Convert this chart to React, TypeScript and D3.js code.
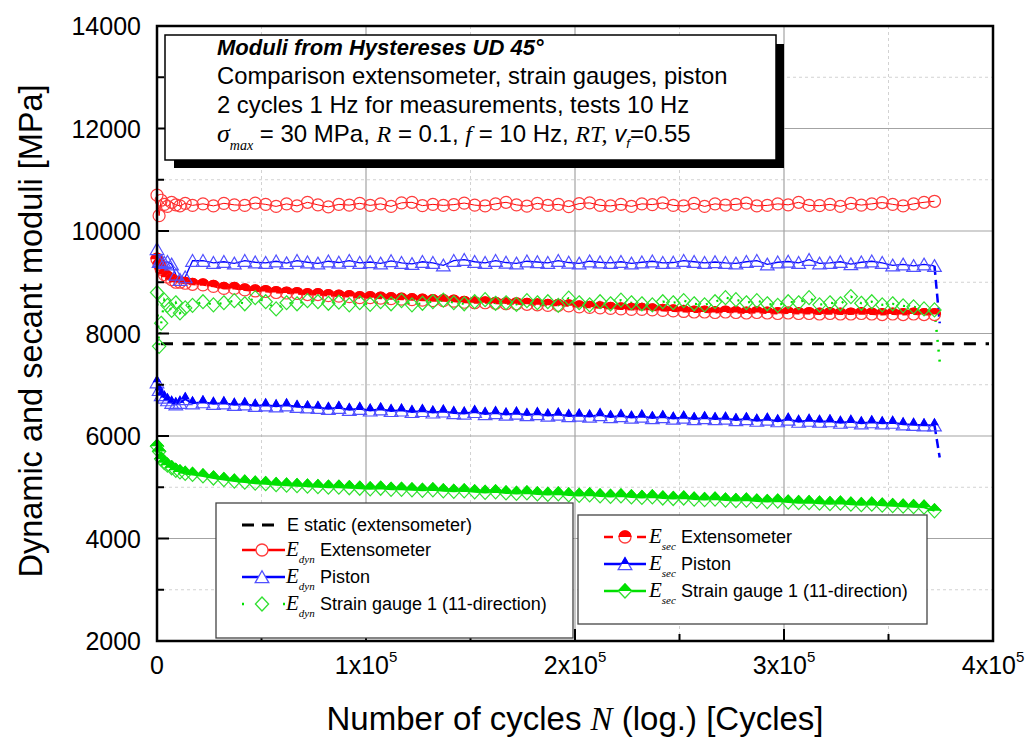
import React from "react";
import * as d3 from "d3";

// Cycle counts at which the hysteresis moduli were evaluated
const cycles = [
  0, 1000, 2000, 3500, 5000, 7000, 9000, 11000, 13500, 17000,
  22000, 27000, 32000, 37000, 42000, 47000, 52000, 57000, 62000, 67000,
  72000, 77000, 82000, 87000, 92000, 97000, 102000, 107000, 112000, 117000,
  122000, 127000, 132000, 137000, 142000, 147000, 152000, 157000, 162000, 167000,
  172000, 177000, 182000, 187000, 192000, 197000, 202000, 207000, 212000, 217000,
  222000, 227000, 232000, 237000, 242000, 247000, 252000, 257000, 262000, 267000,
  272000, 277000, 282000, 287000, 292000, 297000, 302000, 307000, 312000, 317000,
  322000, 327000, 332000, 337000, 342000, 347000, 352000, 357000, 362000, 367000,
  372000,
];

// Dynamic moduli [MPa]
const dynExtensometer = [
  10700, 10300, 10600, 10520, 10480, 10560, 10510, 10490, 10540, 10500,
  10530, 10490, 10540, 10510, 10500, 10545, 10520, 10480, 10530, 10490,
  10560, 10510, 10470, 10520, 10505, 10540, 10500, 10530, 10480, 10550,
  10560, 10495, 10520, 10500, 10515, 10545, 10505, 10490, 10530, 10560,
  10510, 10485, 10540, 10500, 10520, 10475, 10535, 10550, 10500, 10490,
  10520, 10480, 10530, 10515, 10550, 10500, 10490, 10540, 10480, 10530,
  10505, 10520, 10545, 10490, 10500, 10530, 10510, 10560, 10500, 10495,
  10520, 10480, 10540, 10505, 10530, 10555, 10520, 10490, 10530, 10560,
  10580,
];
const dynPiston = [
  9650, 9400, 9420, 9380, 9400, 9350, 9150, 9050, 9100, 9420,
  9420, 9380, 9400, 9370, 9420, 9390, 9380, 9410, 9375, 9420,
  9390, 9370, 9410, 9385, 9420, 9380, 9395, 9370, 9415, 9380,
  9360, 9400, 9380, 9330, 9420, 9440, 9400, 9380, 9420, 9385,
  9370, 9410, 9395, 9380, 9420, 9385, 9370, 9410, 9390, 9380,
  9400, 9370, 9390, 9410, 9380, 9385, 9420, 9400, 9380, 9395,
  9380, 9370, 9400, 9420, 9350, 9390, 9405, 9380, 9440, 9370,
  9380, 9400, 9355, 9390, 9410, 9380, 9330, 9350, 9320, 9350,
  9320,
];
const dynGauge = [
  8800, 7750, 8200, 8650, 8550, 8450, 8600, 8400, 8500, 8550,
  8620, 8560, 8600, 8640, 8580, 8700, 8620, 8480, 8600, 8580,
  8640, 8620, 8590, 8610, 8560, 8600, 8570, 8620, 8580, 8640,
  8560, 8590, 8620, 8650, 8600, 8580, 8620, 8660, 8590, 8600,
  8570, 8640, 8600, 8620, 8550, 8690, 8600, 8560, 8620, 8580,
  8650, 8600, 8580, 8560, 8620, 8600, 8640, 8580, 8560, 8620,
  8700, 8660, 8600, 8640, 8580, 8550, 8620, 8600, 8700, 8560,
  8600, 8580, 8720, 8590, 8620, 8560, 8580, 8540, 8520, 8480,
  8460,
];

// Secant moduli [MPa]
const secExtensometer = [
  9450, 9350, 9250, 9150, 9100, 9050, 9000, 9000, 8980, 8960,
  8950, 8920, 8880, 8880, 8850, 8830, 8820, 8800, 8790, 8780,
  8760, 8760, 8740, 8730, 8720, 8700, 8700, 8690, 8680, 8670,
  8660, 8650, 8640, 8640, 8630, 8610, 8600, 8600, 8590, 8580,
  8580, 8570, 8560, 8550, 8550, 8540, 8520, 8510, 8500, 8490,
  8480, 8470, 8470, 8460, 8450, 8440, 8430, 8420, 8420, 8410,
  8420, 8410, 8400, 8410, 8400, 8390, 8400, 8390, 8390, 8380,
  8390, 8380, 8380, 8390, 8380, 8370, 8380, 8370, 8380, 8370,
  8370,
];
const secPiston = [
  7050, 6900, 6800, 6750, 6700, 6650, 6620, 6650, 6720, 6640,
  6660, 6630, 6640, 6610, 6620, 6590, 6600, 6580, 6600, 6570,
  6560, 6550, 6530, 6550, 6510, 6530, 6500, 6520, 6490, 6500,
  6470, 6490, 6460, 6480, 6450, 6440, 6470, 6430, 6450, 6420,
  6440, 6410, 6430, 6400, 6420, 6390, 6400, 6380, 6410, 6370,
  6390, 6360, 6380, 6350, 6370, 6340, 6360, 6330, 6350, 6330,
  6340, 6310, 6330, 6300, 6320, 6290, 6320, 6280, 6300, 6280,
  6290, 6260, 6280, 6250, 6270, 6250, 6260, 6230, 6220, 6210,
  6210,
];
const secGauge = [
  5800, 5700, 5550, 5480, 5430, 5380, 5330, 5300, 5270, 5250,
  5220, 5180, 5150, 5120, 5100, 5080, 5070, 5050, 5040, 5030,
  5020, 5010, 5000, 5000, 4990, 4980, 4970, 4980, 4960, 4960,
  4950, 4940, 4950, 4930, 4920, 4930, 4910, 4900, 4910, 4890,
  4880, 4890, 4870, 4860, 4870, 4850, 4840, 4850, 4830, 4820,
  4830, 4810, 4800, 4810, 4790, 4780, 4790, 4770, 4760, 4770,
  4750, 4740, 4750, 4730, 4720, 4730, 4710, 4700, 4700, 4690,
  4680, 4690, 4670, 4660, 4670, 4650, 4640, 4630, 4620, 4610,
  4540,
];

// Final readings after the last evaluated hysteresis
const endCycle = 374500;
const endDynPiston = 8200;
const endSecPiston = 5580;
const endDynGauge = 7450;

const eStatic = 7800;

const yMajorTicks = [2000, 4000, 6000, 8000, 10000, 12000, 14000];
const yMinorTicks = [3000, 5000, 7000, 9000, 11000, 13000];
const xMajorTicks = [0, 100000, 200000, 300000, 400000];
const xMinorTicks = [50000, 150000, 250000, 350000];
const xTickMantissa = ["0", "1", "2", "3", "4"];

const annotationLines = [
  "Moduli from Hystereses UD 45°",
  "Comparison extensometer, strain gauges, piston",
  "2 cycles 1 Hz for measurements, tests 10 Hz",
];

const ARIAL = "'Liberation Sans', Arial, sans-serif";
const TIMES = "'Liberation Serif', 'Times New Roman', serif";

const RED = "#ff0000";
const RED_L = "#ff3c3c";
const BLUE = "#0000ff";
const BLUE_L = "#5050ff";
const GREEN = "#00e000";
const GREEN_L = "#30e030";

type Kind = "circle" | "tri" | "dia";

const circlePath = (r: number) =>
  `M${-r},0A${r},${r} 0 1,1 ${r},0A${r},${r} 0 1,1 ${-r},0Z`;
const shapes: Record<Kind, string> = {
  circle: circlePath(6),
  tri: "M0,-6.2L6.8,5.6L-6.8,5.6Z",
  dia: "M0,-7L6.6,0L0,7L-6.6,0Z",
};

function Marker({ kind, cx, cy, half, color, light }: {
  kind: Kind; cx: number; cy: number; half: boolean; color: string; light: string;
}) {
  const d = shapes[kind];
  return (
    <g transform={`translate(${cx},${cy})`}>
      <path d={d} fill="none" stroke={light} strokeWidth={1.2} />
      {half && (
        <path d={d} fill={color} stroke={color} strokeWidth={1.2} clipPath="url(#upperHalf)" />
      )}
    </g>
  );
}

export default function App() {
  const W = 1027;
  const H = 738;
  const x = d3.scaleLinear().domain([0, 400000]).range([157, 993]);
  const y = d3.scaleLinear().domain([2000, 14000]).range([641, 26]);
  const [x0, x1] = x.range();
  const [y0, y1] = y.range();

  const line = d3
    .line<[number, number]>()
    .x((d) => x(d[0]))
    .y((d) => y(d[1]));
  const pts = (vals: number[]) =>
    cycles.map((c, i) => [c, vals[i]] as [number, number]);

  const series = [
    { vals: secExtensometer, kind: "circle" as Kind, half: true, color: RED, light: RED_L, width: 2, dash: "7,4" },
    { vals: secPiston, kind: "tri" as Kind, half: true, color: BLUE, light: BLUE_L, width: 2, dash: undefined },
    { vals: secGauge, kind: "dia" as Kind, half: true, color: GREEN, light: GREEN_L, width: 2, dash: undefined },
    { vals: dynExtensometer, kind: "circle" as Kind, half: false, color: RED, light: RED_L, width: 1, dash: undefined },
    { vals: dynPiston, kind: "tri" as Kind, half: false, color: BLUE, light: BLUE_L, width: 1.3, dash: undefined },
    { vals: dynGauge, kind: "dia" as Kind, half: false, color: GREEN, light: GREEN_L, width: 2.2, dash: "2,9" },
  ];

  const endSegments = [
    { from: [cycles[cycles.length - 1], dynPiston[dynPiston.length - 1]], to: [endCycle, endDynPiston], color: BLUE, dash: "9,5", width: 2.5 },
    { from: [cycles[cycles.length - 1], secPiston[secPiston.length - 1]], to: [endCycle, endSecPiston], color: BLUE, dash: "9,5", width: 2.5 },
    { from: [cycles[cycles.length - 1], dynGauge[dynGauge.length - 1]], to: [endCycle, endDynGauge], color: GREEN, dash: "2,8", width: 2.5 },
  ];

  // Legend layout
  const leg1 = { x: 216, y: 503, w: 357, h: 135 };
  const leg2 = { x: 578, y: 515, w: 349, h: 109 };
  const leg1Rows = [525, 550, 577, 604];
  const leg2Rows = [537, 564, 591];

  const EText = ({ x: tx, y: ty, sub }: { x: number; y: number; sub: string }) => (
    <text x={tx} y={ty} fontFamily={TIMES} fontStyle="italic" fontSize={21} fill="#000">
      E<tspan fontSize={11} dy={7}>{sub}</tspan>
    </text>
  );

  return (
    <svg width={W} height={H} style={{ position: "absolute", left: 0, top: 0, background: "#fff" }}>
      <defs>
        <clipPath id="upperHalf">
          <rect x={-20} y={-20} width={40} height={20} />
        </clipPath>
      </defs>
      <rect x={0} y={0} width={W} height={H} fill="#fff" />

      {/* grid */}
      {yMinorTicks.map((v) => (
        <line key={"gym" + v} x1={x0} x2={x1} y1={y(v)} y2={y(v)} stroke="#d2d2d2" strokeDasharray="3,3" />
      ))}
      {xMinorTicks.map((v) => (
        <line key={"gxm" + v} x1={x(v)} x2={x(v)} y1={y0} y2={y1} stroke="#d2d2d2" strokeDasharray="3,3" />
      ))}
      {yMajorTicks.slice(1, -1).map((v) => (
        <line key={"gy" + v} x1={x0} x2={x1} y1={y(v)} y2={y(v)} stroke="#a3a3a3" strokeWidth={1.2} />
      ))}
      {xMajorTicks.slice(1, -1).map((v) => (
        <line key={"gx" + v} x1={x(v)} x2={x(v)} y1={y0} y2={y1} stroke="#a3a3a3" strokeWidth={1.2} />
      ))}

      {/* static modulus */}
      <line x1={x0 + 4} x2={x1 - 4} y1={y(eStatic)} y2={y(eStatic)} stroke="#000" strokeWidth={3} strokeDasharray="12,9.7" />

      {/* series lines */}
      {series.map((s, i) => (
        <path key={"l" + i} d={line(pts(s.vals)) || ""} fill="none" stroke={s.color} strokeWidth={s.width} strokeDasharray={s.dash} />
      ))}
      {endSegments.map((e, i) => (
        <line key={"e" + i} x1={x(e.from[0])} y1={y(e.from[1])} x2={x(e.to[0])} y2={y(e.to[1])} stroke={e.color} strokeWidth={e.width} strokeDasharray={e.dash} />
      ))}

      {/* markers */}
      {series.map((s, i) => (
        <g key={"m" + i}>
          {s.vals.map((v, j) => (
            <Marker key={j} kind={s.kind} cx={x(cycles[j])} cy={y(v)} half={s.half} color={s.color} light={s.light} />
          ))}
        </g>
      ))}

      {/* ticks */}
      {yMajorTicks.map((v) => (
        <line key={"ty" + v} x1={x0} x2={x0 + 12} y1={y(v)} y2={y(v)} stroke="#000" strokeWidth={2} />
      ))}
      {yMinorTicks.map((v) => (
        <line key={"tym" + v} x1={x0} x2={x0 + 7} y1={y(v)} y2={y(v)} stroke="#000" strokeWidth={2} />
      ))}
      {xMajorTicks.map((v) => (
        <line key={"tx" + v} x1={x(v)} x2={x(v)} y1={y0} y2={y0 - 12} stroke="#000" strokeWidth={2} />
      ))}
      {xMinorTicks.map((v) => (
        <line key={"txm" + v} x1={x(v)} x2={x(v)} y1={y0} y2={y0 - 7} stroke="#000" strokeWidth={2} />
      ))}

      {/* frame */}
      <rect x={x0} y={y1} width={x1 - x0} height={y0 - y1} fill="none" stroke="#000" strokeWidth={2.5} />

      {/* tick labels */}
      {yMajorTicks.map((v) => (
        <text key={"ly" + v} x={141} y={y(v) + 9} textAnchor="end" fontFamily={ARIAL} fontSize={25} fill="#000">
          {v}
        </text>
      ))}
      {xMajorTicks.map((v, i) => (
        <text key={"lx" + v} x={x(v)} y={674} textAnchor="middle" fontFamily={ARIAL} fontSize={25} fill="#000">
          {i === 0 ? (
            "0"
          ) : (
            <>
              {xTickMantissa[i]}x10<tspan fontSize={15} dy={-12}>5</tspan>
            </>
          )}
        </text>
      ))}

      {/* axis titles */}
      <text x={575} y={730} textAnchor="middle" fontFamily={ARIAL} fontSize={33} fill="#000">
        Number of cycles <tspan fontFamily={TIMES} fontStyle="italic">N</tspan> (log.) [Cycles]
      </text>
      <text transform="translate(42,331) rotate(-90)" textAnchor="middle" fontFamily={ARIAL} fontSize={32.5} fill="#000">
        Dynamic and secant moduli [MPa]
      </text>

      {/* annotation box */}
      <rect x={174} y={44} width={610} height={124} fill="#000" />
      <rect x={165} y={35} width={611} height={125} fill="#fff" stroke="#000" strokeWidth={1.5} />
      <text x={217} y={55} fontFamily={ARIAL} fontSize={22} fontWeight="bold" fontStyle="italic" fill="#000">
        {annotationLines[0]}
      </text>
      <text x={217} y={84} fontFamily={ARIAL} fontSize={23.8} fill="#000">{annotationLines[1]}</text>
      <text x={217} y={113} fontFamily={ARIAL} fontSize={23.8} fill="#000">{annotationLines[2]}</text>
      <text x={217} y={142} fontFamily={ARIAL} fontSize={24} fill="#000">
        <tspan fontFamily={TIMES} fontStyle="italic" fontSize={26}>σ</tspan>
        <tspan fontFamily={TIMES} fontStyle="italic" fontSize={14} dy={8}>max</tspan>
        <tspan dy={-8}> = 30 MPa, </tspan>
        <tspan fontFamily={TIMES} fontStyle="italic">R</tspan>
        <tspan> = 0.1, </tspan>
        <tspan fontFamily={TIMES} fontStyle="italic">f</tspan>
        <tspan> = 10 Hz, </tspan>
        <tspan fontFamily={TIMES} fontStyle="italic">RT,</tspan>
        <tspan> </tspan>
        <tspan fontStyle="italic">v</tspan>
        <tspan fontStyle="italic" fontSize={13} dy={6}>f</tspan>
        <tspan dy={-6}>=0.55</tspan>
      </text>

      {/* legend: dynamic moduli */}
      <rect x={leg1.x} y={leg1.y} width={leg1.w} height={leg1.h} fill="#fff" stroke="#444" strokeWidth={1.3} />
      <line x1={242} x2={274} y1={leg1Rows[0]} y2={leg1Rows[0]} stroke="#000" strokeWidth={3} strokeDasharray="12,8" />
      <text x={287} y={leg1Rows[0] + 6} fontFamily={ARIAL} fontSize={18} fill="#000">E static (extensometer)</text>
      {[
        { color: RED, light: RED_L, kind: "circle" as Kind, label: "Extensometer", dash: undefined, w: 2.5 },
        { color: BLUE, light: BLUE_L, kind: "tri" as Kind, label: "Piston", dash: undefined, w: 2.5 },
        { color: GREEN, light: GREEN_L, kind: "dia" as Kind, label: "Strain gauge 1 (11-direction)", dash: "2,39", w: 2.5 },
      ].map((r, i) => {
        const cy = leg1Rows[i + 1];
        return (
          <g key={"lg1" + i}>
            <line x1={242} x2={285} y1={cy} y2={cy} stroke={r.color} strokeWidth={r.w} strokeDasharray={r.dash} />
            <path d={shapes[r.kind]} transform={`translate(262,${cy})`} fill="#fff" stroke={r.light} strokeWidth={1.3} />
            <EText x={286} y={cy + 6} sub="dyn" />
            <text x={320} y={cy + 6} fontFamily={ARIAL} fontSize={18} fill="#000">{r.label}</text>
          </g>
        );
      })}

      {/* legend: secant moduli */}
      <rect x={leg2.x} y={leg2.y} width={leg2.w} height={leg2.h} fill="#fff" stroke="#444" strokeWidth={1.3} />
      {[
        { color: RED, light: RED_L, kind: "circle" as Kind, label: "Extensometer", dashed: true },
        { color: BLUE, light: BLUE_L, kind: "tri" as Kind, label: "Piston", dashed: false },
        { color: GREEN, light: GREEN_L, kind: "dia" as Kind, label: "Strain gauge 1 (11-direction)", dashed: false },
      ].map((r, i) => {
        const cy = leg2Rows[i];
        return (
          <g key={"lg2" + i}>
            {r.dashed ? (
              <>
                <line x1={604} x2={613} y1={cy} y2={cy} stroke={r.color} strokeWidth={2.5} />
                <line x1={637} x2={646} y1={cy} y2={cy} stroke={r.color} strokeWidth={2.5} />
              </>
            ) : (
              <line x1={604} x2={646} y1={cy} y2={cy} stroke={r.color} strokeWidth={2.5} />
            )}
            <g transform={`translate(625,${cy})`}>
              <path d={shapes[r.kind]} fill="#fff" stroke={r.light} strokeWidth={1.3} />
              <path d={shapes[r.kind]} fill={r.color} stroke={r.color} strokeWidth={1.3} clipPath="url(#upperHalf)" />
            </g>
            <EText x={649} y={cy + 6} sub="sec" />
            <text x={681} y={cy + 6} fontFamily={ARIAL} fontSize={18} fill="#000">{r.label}</text>
          </g>
        );
      })}
    </svg>
  );
}
